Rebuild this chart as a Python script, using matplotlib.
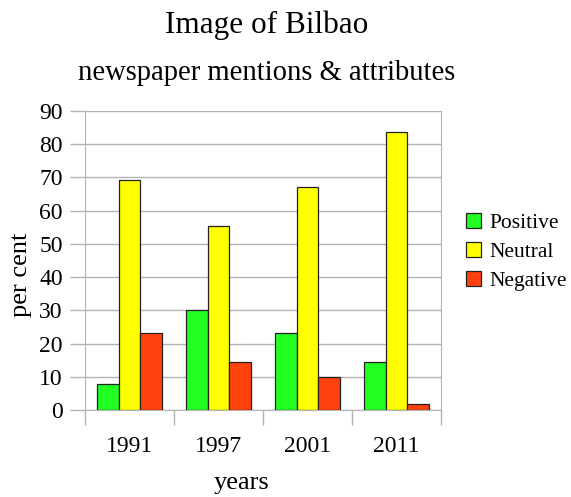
import matplotlib
matplotlib.use("Agg")
import matplotlib.pyplot as plt
import numpy as np

plt.rcParams["font.family"] = ["Liberation Serif", "DejaVu Serif"]

# 数据
years = ["1991", "1997", "2001", "2011"]
positive = [7.7, 30.1, 23.1, 14.4]
neutral = [69.2, 55.4, 67.1, 83.6]
negative = [23.1, 14.5, 9.8, 1.9]
series_names = ["Positive", "Neutral", "Negative"]
colors = ["#22ff22", "#ffff00", "#ff420e"]

fig = plt.figure(figsize=(5.71, 4.97), dpi=100)
ax = fig.add_axes([85 / 571, 1 - 410 / 497, 356 / 571, 299 / 497])

x = np.arange(len(years))
w = 0.247
for i, (vals, name, c) in enumerate(zip([positive, neutral, negative], series_names, colors)):
    ax.bar(x + (i - 1) * w, vals, width=w, color=c, edgecolor="#222222",
           linewidth=0.9, label=name, zorder=3)

grid_c = "#b3b3b3"
ax.set_xlim(-0.5, len(years) - 0.5)
ax.set_ylim(0, 90)
ax.set_yticks(range(0, 91, 10))
ax.set_xticks(x)
ax.set_xticklabels(years)
ax.set_xticks(np.arange(-0.5, len(years), 1), minor=True)
ax.tick_params(axis="x", which="major", length=0, pad=19, labelsize=17)
ax.tick_params(axis="x", which="minor", length=11, color=grid_c, width=1)
ax.tick_params(axis="y", length=11, color=grid_c, width=1, labelsize=17, pad=5)
ax.yaxis.grid(True, color=grid_c, linewidth=1, zorder=0)
ax.set_axisbelow(True)
for s in ["left", "bottom", "right"]:
    ax.spines[s].set_color(grid_c)
ax.spines["top"].set_visible(False)

# 坐标轴标题
fig.text(21 / 571, 1 - 275 / 497, "per cent", fontsize=19, rotation=90, ha="center", va="center")
fig.text(242 / 571, 1 - 483 / 497, "years", fontsize=19, ha="center", va="center")

fig.text(267 / 571, 1 - 25 / 497, "Image of Bilbao", fontsize=22.5, ha="center", va="center")
fig.text(267 / 571, 1 - 73 / 497, "newspaper mentions & attributes", fontsize=20.6, ha="center", va="center")

fig.legend(loc="center left", bbox_to_anchor=(457 / 571, 1 - 252 / 497), frameon=False,
           fontsize=15.5, handlelength=0.7, handleheight=0.7, handletextpad=0.41,
           labelspacing=0.4, borderaxespad=0)

fig.savefig("out.png", dpi=100)
